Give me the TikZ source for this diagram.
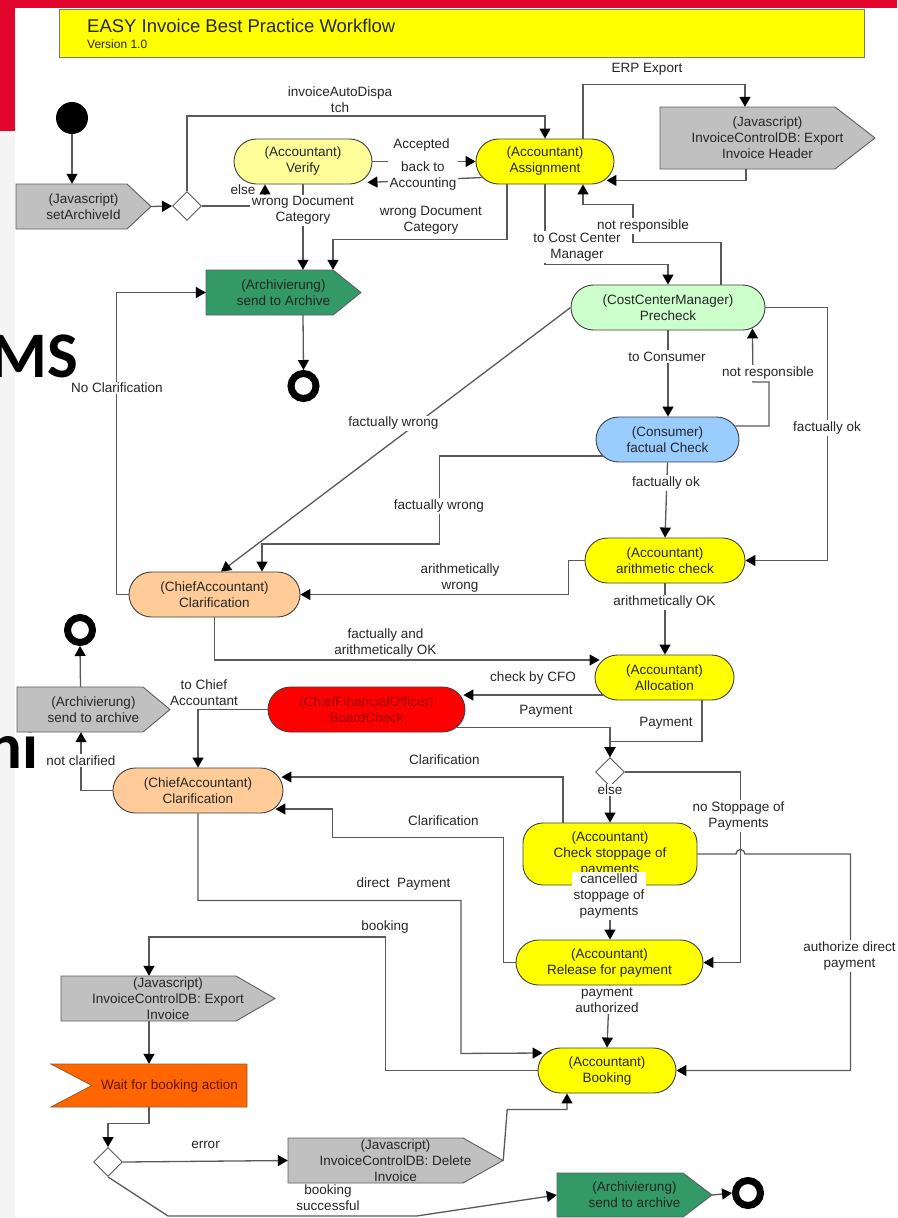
\documentclass[tikz,border=0pt]{standalone}
\usepackage{fontspec}
\setmainfont{Liberation Sans}
\newfontfamily\slidefont{Carlito}
\usetikzlibrary{arrows.meta,shapes.geometric}
\definecolor{ln}{HTML}{5A5A5A}
\definecolor{bord}{HTML}{404040}
\definecolor{txt}{HTML}{262626}
\definecolor{slidered}{HTML}{E3062C}
\definecolor{lgray}{HTML}{F4F4F4}
\definecolor{titlebd}{HTML}{7A7A7A}
\definecolor{lyellow}{HTML}{FFFF99}
\definecolor{yel}{HTML}{FFFF00}
\definecolor{lgreen}{HTML}{CCFFCC}
\definecolor{lblue}{HTML}{99CCFF}
\definecolor{tan}{HTML}{FFCC99}
\definecolor{boardred}{HTML}{FF0000}
\definecolor{boardtxt}{HTML}{990000}
\definecolor{sgray}{HTML}{C0C0C0}
\definecolor{sgreen}{HTML}{339966}
\definecolor{sigbd}{HTML}{5F5F5F}
\definecolor{orw}{HTML}{FF6600}
\definecolor{orwbd}{HTML}{9A5A2A}
\definecolor{waittxt}{HTML}{661100}
\newcommand\lblfont{\fontsize{13.5}{16}\selectfont}
% #1 name, #2 x1, #3 y1, #4 x of pointer start, #5 x of tip, #6 y2, #7 fill, #8 text
\newcommand\sigbox[8]{%
  \filldraw[fill=#7, draw=sigbd, line width=0.9pt] (#2,#3) -- (#4,#3) -- (#5,{(#3+#6)/2}) -- (#4,#6) -- (#2,#6) -- cycle;
  \node[sigtext, minimum width={#5-#2}, minimum height={#6-#3}] (#1) at ({(#2+#5)/2},{(#3+#6)/2}) {#8};
}
\begin{document}
\begin{tikzpicture}[x=1pt,y=-1pt,
  lab/.style={font=\lblfont, text=txt, align=center, fill=white, inner xsep=1.5pt, inner ysep=1.5pt},
  labn/.style={font=\lblfont, text=txt, align=center, inner sep=1pt},
  stad/.style={draw=bord, line width=0.9pt, rounded corners=22.5pt, minimum height=45pt, align=center, font=\lblfont, text=txt, inner sep=0pt},
  sigtext/.style={align=center, font=\lblfont, text=txt, inner sep=0pt},
  conn/.style={draw=ln, line width=1.3pt},
  arr/.style={conn, -{Triangle[length=10pt,width=11pt,color=black]}},
  dia/.style={diamond, draw=ln, fill=white, line width=0.9pt, minimum width=29pt, minimum height=29pt, inner sep=0pt},
  endst/.style={circle, draw=black, line width=7pt, minimum size=25pt, inner sep=0pt},
]
\useasboundingbox (0,0) rectangle (897,1218);
\fill[white] (0,0) rectangle (897,1218);
\fill[lgray] (0,130) rectangle (15,1218);
\fill[slidered] (0,0) rectangle (897,8);
\fill[slidered] (0,0) rectangle (15,131);

% slide text fragments behind the diagram
\node[anchor=base east, inner sep=0, font={\slidefont\bfseries\fontsize{65}{70}\selectfont}] (ms) at (78,377) {MS};
\node[anchor=base east, inner sep=0, font={\slidefont\bfseries\fontsize{65}{70}\selectfont}] (ni) at (39,768) {ni};

% title
\node[draw=titlebd, fill=yel, line width=1pt, minimum width=805pt, minimum height=48pt, anchor=north west, inner sep=0] (titlebox) at (59,9) {};
\node[anchor=base west, inner sep=0, text=txt, font=\fontsize{18.5}{20}\selectfont] (title) at (87,32) {EASY Invoice Best Practice Workflow};
\node[anchor=base west, inner sep=0, text=txt, font=\fontsize{12}{14}\selectfont] (version) at (87,48) {Version 1.0};

% nodes
\node[circle, fill=black, minimum size=32pt, inner sep=0] (start) at (72,118) {};
\sigbox{setA}{16}{184}{127}{151}{229}{sgray}{(Javascript)\\setArchiveId}
\node[dia] (d1) at (187,206) {};
\node[stad, fill=lyellow, minimum width=138pt] (verify) at (303,161.5) {(Accountant)\\Verify};
\node[stad, fill=yel, minimum width=138pt] (assign) at (545,161.5) {(Accountant)\\Assignment};
\sigbox{expH}{660}{107}{835}{875}{169}{sgray}{(Javascript)\\InvoiceControlDB: Export\\Invoice Header}
\sigbox{arch1}{206}{270}{333}{361}{315}{sgreen}{(Archivierung)\\send to Archive}
\node[endst] (e1) at (303.5,386) {};
\node[stad, fill=lgreen, minimum width=194pt] (precheck) at (668,307.5) {(CostCenterManager)\\Precheck};
\node[stad, fill=lblue, minimum width=143pt] (consumer) at (667.5,439.5) {(Consumer)\\factual Check};
\node[stad, fill=yel, minimum width=160pt] (arith) at (665,560.5) {(Accountant)\\arithmetic check};
\node[stad, fill=tan, minimum width=171pt] (clar1) at (214.5,594.5) {(ChiefAccountant)\\Clarification};
\node[stad, fill=yel, minimum width=139pt] (alloc) at (664.5,677.5) {(Accountant)\\Allocation};
\node[stad, fill=boardred, text=boardtxt, minimum width=197pt] (board) at (366.5,709.5) {(ChiefFinancialOfficer)\\BoardCheck};
\sigbox{arch2}{17}{687}{143}{170}{732}{sgray}{(Archivierung)\\send to archive}
\node[endst] (e2) at (80,630) {};
\node[stad, fill=tan, minimum width=170pt] (clar2) at (198,790.5) {(ChiefAccountant)\\Clarification};
\node[dia] (d2) at (610,772) {};
\node[stad, fill=yel, minimum width=174pt, minimum height=62pt, rounded corners=20pt] (stop) at (610,854) {(Accountant)\\Check stoppage of\\payments};
\node[stad, fill=yel, minimum width=187pt] (release) at (609.5,962.5) {(Accountant)\\Release for payment};
\node[stad, fill=yel, minimum width=138pt] (booking) at (607,1070.5) {(Accountant)\\Booking};
\sigbox{expI}{61}{976}{236}{275}{1021}{sgray}{(Javascript)\\InvoiceControlDB: Export\\Invoice}
\filldraw[fill=orw, draw=orwbd, line width=0.9pt] (51,1064) -- (247,1064) -- (247,1107) -- (51,1107) -- (92,1085.5) -- cycle;
\node[sigtext, text=waittxt, minimum width=155pt, minimum height=43pt] (wait) at (169.5,1085.5) {Wait for booking action};
\node[dia] (d3) at (108,1162) {};
\sigbox{delI}{288}{1138}{463}{503}{1183}{sgray}{(Javascript)\\InvoiceControlDB: Delete\\Invoice}
\sigbox{arch3}{557}{1173}{683}{712}{1217}{sgreen}{(Archivierung)\\send to archive}
\node[endst] (e3) at (748,1193) {};

% connectors
\draw[arr] (start.south) -- (start.south |- setA.north);
\draw[arr] (setA.east) -- (d1.west);
\draw[arr] (d1.north) -- ++(0,-75) -| (assign.north);
\draw[arr] (d1.east) -| ([xshift=-38pt]verify.south);
\draw[arr] (verify.east) -- (assign.west);
\draw[arr] ([xshift=8pt,yshift=7pt]assign.south west) -- ([xshift=-5pt,yshift=2pt]verify.south east);
\draw[arr] (verify.south) -- (verify.south |- arch1.north);
\draw[arr] ([xshift=-38pt]assign.south) -- ++(0,55) -| ([xshift=49.5pt]arch1.north);
\draw[arr] ([xshift=38pt]assign.north) -- ++(0,-54) -| ([xshift=-22.5pt]expH.north);
\draw[arr] ([xshift=-21.5pt]expH.south) |- ([xshift=-8pt,yshift=4pt]assign.south east);
\draw[arr] ([xshift=53pt]precheck.north) -- ++(0,-42) -| ++(-88,-38) -| ([xshift=38pt]assign.south);
\draw[arr] (assign.south) -- ++(0,80) -| (precheck.north);
\draw[arr] (precheck.south) -- (precheck.south |- consumer.north);
\draw[arr] ([xshift=-4pt,yshift=13.5pt]consumer.east) -- ++(33.5,0) -- ++(0,-44) -- ++(-16,0) -- ([xshift=-13pt,yshift=2pt]precheck.south east);
\draw[arr] (precheck.east) -- ++(62,0) |- (arith.east);
\draw[arr] (precheck.west) -- ([xshift=6.5pt]clar1.north);
\draw[arr] ([xshift=7pt,yshift=-16.5pt]consumer.west) -- ++(-163,0) -- ++(0,88) -| ([xshift=47.5pt]clar1.north);
\draw[arr] (consumer.south) -- (arith.north);
\draw[arr] (arith.west) -- ++(-16,0) |- (clar1.east);
\draw[arr] (arith.south) -- (arith.south |- alloc.north);
\draw[arr] (clar1.south) |- ([xshift=5pt,yshift=17.5pt]alloc.west);
\draw[arr] (clar1.west) -- ++(-12,0) |- (arch1.west);
\draw[arr] ([xshift=19.5pt]arch1.south) -- (e1.north);
\draw[arr] ([xshift=8pt,yshift=-17.5pt]alloc.west) -- ([xshift=-2pt,yshift=14.5pt]board.east);
\draw[arr] ([xshift=-8pt,yshift=5pt]board.south east) -| (d2.north);
\draw[arr] ([xshift=37.5pt]alloc.south) -- ++(0,41) -| (d2.north);
\draw[arr] (board.west) -| (clar2.north);
\draw[arr] (clar2.west) -| ([xshift=-12.5pt]arch2.south);
\draw[arr] ([xshift=-13pt]arch2.north) -- (e2.south);
\draw[arr] ([xshift=-47pt]stop.north) |- ([xshift=-2pt,yshift=13.5pt]clar2.east);
\draw[arr] (release.west) -- ++(-12,0) |- ++(-171,-125) |- ([xshift=-8pt,yshift=-18.5pt]clar2.east);
\draw[arr] (d2.south) -- (stop.north);
\draw[arr] (d2.east) -- ++(115.5,0) |- (release.east);
\draw[arr] (stop.east) -- ++(38.5,0) arc[start angle=180, end angle=0, radius=4.5pt] -- ++(105.5,0) |- (booking.east);
\draw[arr] (stop.south) -- (stop.south |- release.north);
\draw[arr] (release.south) -- (booking.north);
\draw[arr] (clar2.south) -- ++(0,87) -| ++(263,153) -- ([xshift=5pt,yshift=17.5pt]booking.west);
\draw[arr] (booking.west) -- ++(-152,0) -- ++(0,-133.5) -| ([xshift=-19pt]expI.north);
\draw[arr] ([xshift=-19pt]expI.south) -- ([xshift=-19pt]expI.south |- wait.north);
\draw[arr] ([xshift=-20.5pt]wait.south) -- ++(0,16) -| (d3.north);
\draw[arr] (d3.east) -- (delI.west);
\draw[arr] (delI.east) -- ++(4,-51) -| ([xshift=-40pt]booking.south);
\draw[arr] (d3.south) -- ++(60,39) -- ++(249,0) -- (arch3.west);
\draw[arr] (arch3.east) -- (e3.west);

% labels
\node[lab] (l1) at (340,99.5) {invoiceAutoDispa\\tch};
\node[labn] (l2) at (243,189.5) {else};
\node[lab] (l3) at (303,210.5) {wrong Document\\Category};
\node[labn] (l4) at (421.5,145) {Accepted};
\node[lab] (l5) at (423,176) {back to\\Accounting};
\node[lab] (l6) at (431,220) {wrong Document\\Category};
\node[labn] (l7) at (647,69) {ERP Export};
\node[lab] (l8) at (643,226) {not responsible};
\node[lab] (l9) at (577,247) {to Cost Center\\Manager};
\node[lab] (l10) at (667,356.5) {to Consumer};
\node[lab] (l11) at (768,373) {not responsible};
\node[lab] (l12) at (827,428) {factually ok};
\node[lab] (l13) at (393.5,423.5) {factually wrong};
\node[lab] (l14) at (439,506) {factually wrong};
\node[lab] (l15) at (666,483) {factually ok};
\node[lab] (l16) at (460,578) {arithmetically\\wrong};
\node[lab] (l17) at (664.5,602.5) {arithmetically OK};
\node[lab] (l18) at (385.5,643.5) {factually and\\arithmetically OK};
\node[lab] (l19) at (117,388) {No Clarification};
\node[labn] (l20) at (533,678) {check by CFO};
\node[labn] (l21) at (546,711) {Payment};
\node[labn] (l22) at (666,723.5) {Payment};
\node[lab] (l23) at (204,692.5) {to Chief\\Accountant};
\node[lab] (l24) at (81,760.5) {not clarified};
\node[labn] (l25) at (444.5,760) {Clarification};
\node[labn] (l26) at (443.5,821) {Clarification};
\node[lab] (l27) at (610,790) {else};
\node[lab] (l28) at (738.5,816) {no Stoppage of\\Payments};
\node[lab] (l29) at (609,896) {cancelled\\stoppage of\\payments};
\node[lab] (l30) at (849.5,956) {authorize direct\\payment};
\node[lab] (l31) at (607,1000) {payment\\authorized};
\node[labn] (l32) at (403.5,883.5) {direct\ \ Payment};
\node[labn] (l33) at (385,926.5) {booking};
\node[labn] (l34) at (205.5,1145) {error};
\node[lab] (l35) at (328,1198) {booking\\successful};
\end{tikzpicture}
\end{document}
